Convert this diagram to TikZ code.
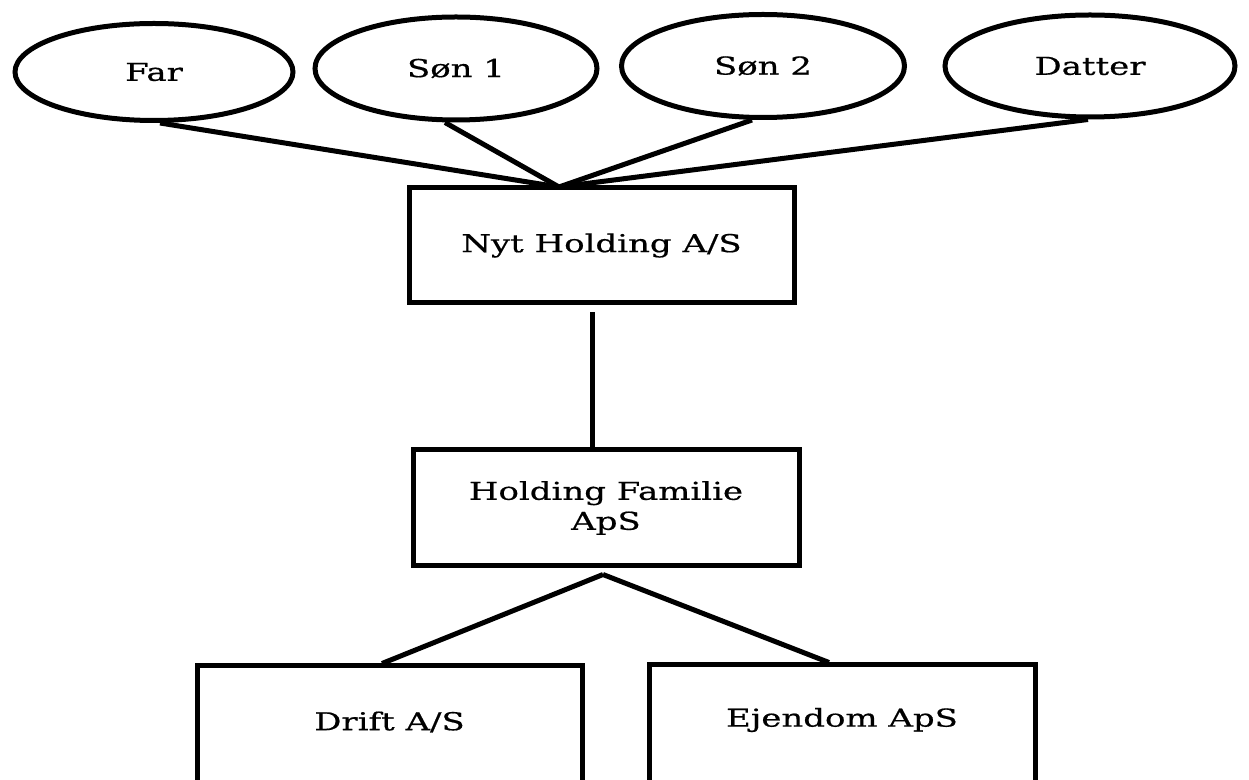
\documentclass[tikz,border=0pt]{standalone}
\usepackage{fontspec}
\setmainfont{DejaVu Serif}[FakeStretch=1.38,FakeBold=0.6]
\usetikzlibrary{shapes.geometric,calc}
\begin{document}
\begin{tikzpicture}[x=0.5pt,y=-0.5pt,
  person/.style={draw,ellipse,line width=2.5pt,inner sep=0pt,font=\fontsize{12.3}{14}\selectfont},
  company/.style={draw,rectangle,line width=2.5pt,inner sep=0pt,align=center,font=\fontsize{12.3}{15}\selectfont},
  label/.style={inner sep=0pt,font=\fontsize{12.3}{14}\selectfont},
  link/.style={line width=2.5pt}]
\useasboundingbox (0,0) rectangle (1249,780);
\clip (0,0) rectangle (1249,780);
\fill[white] (0,0) rectangle (1249,780);
% owners
\node[person,minimum width=139pt,minimum height=48.5pt] (far) at (154,72) {Far};
\node[person,minimum width=141pt,minimum height=51.5pt] (son1) at (456,68.5) {Søn 1};
\node[person,minimum width=141.5pt,minimum height=51.5pt] (son2) at (763,66) {Søn 2};
\node[person,minimum width=145pt,minimum height=51pt] (datter) at (1090,66) {Datter};
% companies
\node[company,minimum width=192.5pt,minimum height=57.5pt] (nyt) at (601.5,245.5) {Nyt Holding A/S};
\node[company,minimum width=193pt,minimum height=58pt] (fam) at (606,508) {Holding Familie\\ApS};
\node[company,minimum width=192.5pt,minimum height=82pt] (drift) at (389.5,748) {};
\node[company,minimum width=193pt,minimum height=82pt] (ejendom) at (842,747) {};
\node[label] (drifttext) at (389.5,722) {Drift A/S};
\node[label] (ejendomtext) at (842,720) {Ejendom ApS};
% connectors
\coordinate (j) at (559,187);
\draw[link] ([xshift=3pt]far.south) -- (j);
\draw[link] ([xshift=-5.5pt]son1.south) -- (j);
\draw[link] ([xshift=-5.5pt]son2.south) -- (j);
\draw[link] ([xshift=-1pt]datter.south) -- (j);
\draw[link] ([xshift=-4.75pt,yshift=-3.5pt]nyt.south) -- ([xshift=-7pt]fam.north);
\draw[link] ([xshift=-1.5pt,yshift=-3pt]fam.south) -- ([xshift=-3.75pt]drift.north);
\draw[link] ([xshift=-1.5pt,yshift=-3pt]fam.south) -- ([xshift=-6.5pt]ejendom.north);
\end{tikzpicture}
\end{document}
